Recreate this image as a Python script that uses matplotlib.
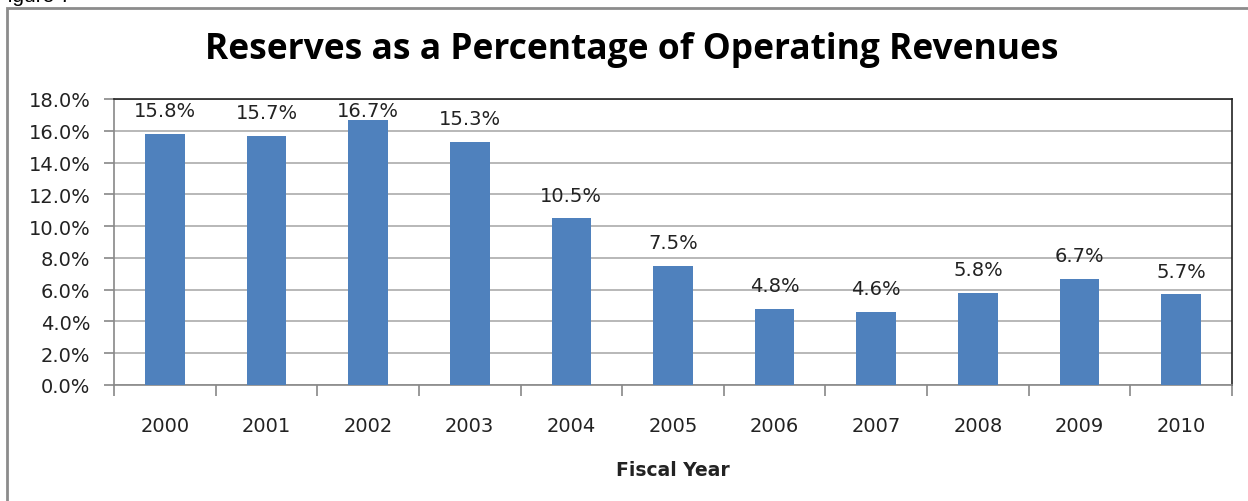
import numpy as np
import matplotlib
matplotlib.use("Agg")
import matplotlib.pyplot as plt
from matplotlib.patches import Rectangle
from matplotlib.ticker import MultipleLocator, FuncFormatter

# Data
years = ["2000", "2001", "2002", "2003", "2004", "2005",
         "2006", "2007", "2008", "2009", "2010"]
reserves_pct = [15.8, 15.7, 16.7, 15.3, 10.5, 7.5, 4.8, 4.6, 5.8, 6.7, 5.7]

plt.rcParams['font.family'] = ['DejaVu Sans']

W, H = 1248, 502
fig = plt.figure(figsize=(W / 100, H / 100), dpi=100)

# plot area in pixels: left 114, right 1232, top 100, bottom 386
ax = fig.add_axes([114 / W, 1 - 386 / H, (1232 - 114) / W, (386 - 100) / H])

x = np.arange(len(years))
ax.bar(x, reserves_pct, width=0.39, color="#4F81BD", zorder=3)

ymax = 18.0
ax.set_ylim(0, ymax)
ax.set_xlim(-0.5, len(years) - 0.5)

# data labels above bars, kept inside the plot area
for xi, v in zip(x, reserves_pct):
    ly = min(v + 1.45, 17.3)
    ax.text(xi, ly, f"{v:.1f}%", ha="center", va="center",
            fontsize=14, color="#222222", zorder=4)

ax.yaxis.set_major_locator(MultipleLocator(2))
ax.yaxis.set_major_formatter(FuncFormatter(lambda v, p: f"{v:.1f}%"))
ax.grid(axis="y", color="#ABABAB", linewidth=1.2, zorder=0)

ax.set_xticks(x)
ax.set_xticklabels(years)
ax.set_xticks(np.arange(len(years) + 1) - 0.5, minor=True)
ax.tick_params(axis="x", which="major", length=0, pad=22, labelsize=14,
               colors="#222222")
ax.tick_params(axis="x", which="minor", length=8, width=1.2,
               color="#888888")
ax.tick_params(axis="y", length=7, width=1.2, color="#888888", pad=10,
               labelsize=14, labelcolor="#222222")

for side in ["left", "bottom"]:
    ax.spines[side].set_color("#888888")
    ax.spines[side].set_linewidth(1.2)
for side in ["top", "right"]:
    ax.spines[side].set_color("#222222")
    ax.spines[side].set_linewidth(1.2)

ax.set_xlabel("Fiscal Year", fontsize=13.5, fontweight="bold",
              color="#222222", labelpad=18)

fig.text(632 / W, 1 - 50 / H, "Reserves as a Percentage of Operating Revenues",
         ha="center", va="center", fontsize=25.5, fontweight="bold",
         family="Open Sans", color="#000000")

# cut-off caption and outer frame
fig.text(-5 / W, 1 - 2 / H, "Figure 7", ha="left", va="baseline",
         fontsize=15, family="Liberation Sans", color="#000000")
fig.patches.append(Rectangle((7 / W, -0.1), 1.2, 1 - 9 / H + 0.1,
                             transform=fig.transFigure, fill=False,
                             edgecolor="#8C8C8C", linewidth=2))

fig.savefig("out.png", dpi=100)
